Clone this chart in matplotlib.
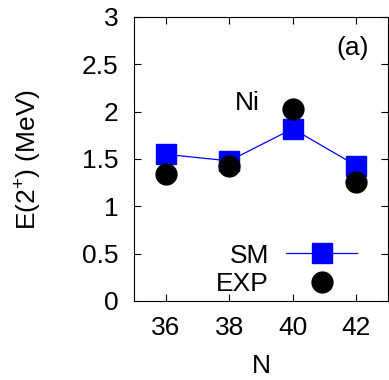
import matplotlib
matplotlib.use('Agg')
import matplotlib.pyplot as plt

# Ni isotopes, first 2+ energies
neutrons = [36, 38, 40, 42]
e2_sm = [1.55, 1.48, 1.82, 1.43]
e2_exp = [1.346, 1.425, 2.033, 1.260]

plt.rcParams['font.family'] = ['Liberation Sans', 'DejaVu Sans']
plt.rcParams['font.size'] = 19
plt.rcParams['mathtext.fontset'] = 'custom'
plt.rcParams['mathtext.rm'] = 'Liberation Sans'

fig = plt.figure(figsize=(3.89, 3.80), dpi=100)
ax = fig.add_axes([134/389, 79/380, 254/389, 284/380])

ax.plot(neutrons, e2_sm, color='#0000ff', lw=0.9, marker='s', ms=15,
        mec='#0000ff', mfc='#0000ff', label='SM', zorder=2)
ax.plot(neutrons, e2_exp, ls='none', marker='o', ms=15,
        color='black', label='EXP', zorder=3)

ax.set_xlim(35, 43)
ax.set_ylim(0, 3)
ax.set_xticks(neutrons)
ax.set_yticks([0, 0.5, 1, 1.5, 2, 2.5, 3])
ax.set_yticklabels(['0', '0.5', '1', '1.5', '2', '2.5', '3'])
ax.tick_params(direction='in', top=True, right=True, length=5, width=0.8)
ax.tick_params(axis='y', pad=11)
ax.tick_params(axis='x', pad=11)

ax.set_xlabel('N', labelpad=10)
ax.set_ylabel(r'E(2$^{+}$) (MeV)', labelpad=28)

ax.text(0.445, 0.697, 'Ni', ha='center', va='center', transform=ax.transAxes)
ax.text(0.862, 0.891, '(a)', ha='center', va='center', transform=ax.transAxes)

ax.legend(loc='lower right', bbox_to_anchor=(0.972, -0.067),
          frameon=False, markerfirst=False,
          handlelength=2.7, labelspacing=0.18, borderaxespad=0.5,
          handletextpad=0.65, numpoints=1)

fig.savefig('out.png', dpi=100)
